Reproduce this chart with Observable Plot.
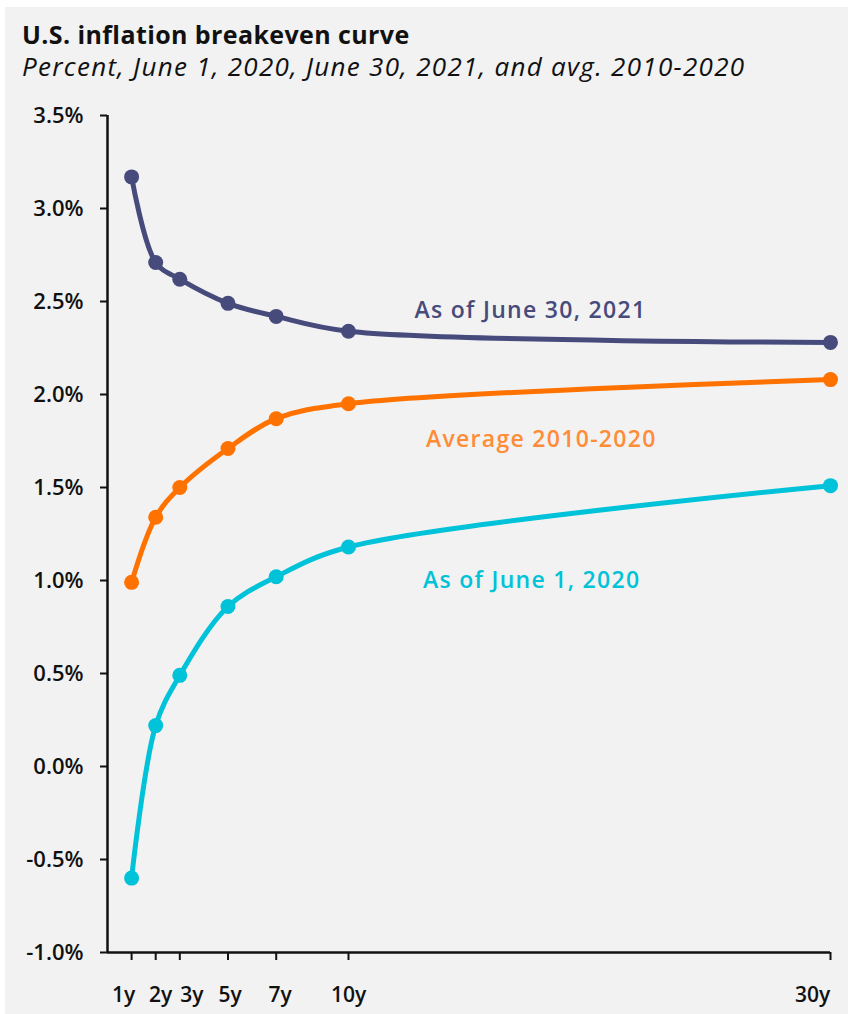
<!DOCTYPE html>
<html>
<head>
<meta charset="utf-8">
<script src="https://cdn.jsdelivr.net/npm/d3@7"></script>
<script src="https://cdn.jsdelivr.net/npm/@observablehq/plot@0.6"></script>
<style>
  html, body { margin: 0; padding: 0; background: #ffffff; }
  #panel {
    position: absolute; left: 5px; top: 7px; right: 0; bottom: 0;
    background: #f2f2f2; overflow: hidden;
    font-family: "Open Sans", "Noto Sans", sans-serif; color: #111;
  }
  #title { position: absolute; left: 17px; top: 10px; font-size: 25px; font-weight: 700; letter-spacing: 0.4px; white-space: nowrap; }
  #subtitle { position: absolute; left: 17px; top: 41px; font-size: 26px; font-style: italic; font-weight: 400; letter-spacing: 1.3px; white-space: nowrap; }
  #chart { position: absolute; left: 0; top: 88px; }
</style>
</head>
<body>
<div id="panel">
  <div id="title">U.S. inflation breakeven curve</div>
  <div id="subtitle">Percent, June 1, 2020, June 30, 2021, and avg. 2010-2020</div>
  <div id="chart"></div>
</div>
<script>
// Maturities (years) and breakeven rates (%)
const tenors = [1, 2, 3, 5, 7, 10, 30];
const june2021 = [3.17, 2.71, 2.62, 2.49, 2.42, 2.34, 2.28];
const avg2010_2020 = [0.99, 1.34, 1.50, 1.71, 1.87, 1.95, 2.08];
const june2020 = [-0.60, 0.22, 0.49, 0.86, 1.02, 1.18, 1.51];

const seriesNames = ["As of June 30, 2021", "Average 2010-2020", "As of June 1, 2020"];
const lineColors = ["#464b7c", "#ff7200", "#00c2d8"];
const labelColors = ["#464b7c", "#ff8c37", "#00c2d8"];
const yTicks = [-1.0, -0.5, 0.0, 0.5, 1.0, 1.5, 2.0, 2.5, 3.0, 3.5];

// Label anchor points, in chart units (years, percent)
const labelX = [17.55, 18.0, 17.6];
const labelY = [2.45, 1.76, 1.0];

const seriesValues = [june2021, avg2010_2020, june2020];
const rows = seriesValues.flatMap((vals, i) =>
  tenors.map((t, j) => ({ series: seriesNames[i], tenor: t, value: vals[j] }))
);
const labels = seriesNames.map((name, i) => ({ series: name, x: labelX[i], y: labelY[i] }));

const font = "'Open Sans', 'Noto Sans', sans-serif";

// Tenor label under the x axis; the short-end labels are nudged apart so they don't collide
const tenorLabel = (t, dx) => Plot.text([t], {
  x: d => d, text: d => d + "y", frameAnchor: "bottom", dy: 43, dx,
  fontSize: 21, fontWeight: 600, fill: "#111", lineAnchor: "middle"
});

const chart = Plot.plot({
  width: 843,
  height: 919,
  marginLeft: 102,
  marginRight: 18,
  marginTop: 20,
  marginBottom: 62,
  style: { background: "transparent", fontFamily: font, fontSize: "21px", fontWeight: 600, color: "#111" },
  x: { type: "linear", domain: [0, 30] },
  y: { domain: [-1, 3.5] },
  color: { domain: seriesNames, range: lineColors },
  marks: [
    Plot.axisY({ ticks: yTicks, tickFormat: d => d.toFixed(1) + "%", tickSize: 7, tickPadding: 17, strokeWidth: 2, stroke: "#111", label: null, fontSize: 22 }),
    Plot.axisX({ ticks: tenors, tickFormat: () => "", tickSize: 8, strokeWidth: 2, stroke: "#111", label: null }),
    tenorLabel(1, -8), tenorLabel(2, 5), tenorLabel(3, 12), tenorLabel(5, 2),
    tenorLabel(7, 4), tenorLabel(10, 0), tenorLabel(30, -18),
    Plot.ruleX([0], { stroke: "#111", strokeWidth: 2.5 }),
    Plot.ruleY([-1], { stroke: "#111", strokeWidth: 2.5 }),
    Plot.line(rows, { x: "tenor", y: "value", z: "series", stroke: "series", strokeWidth: 5, curve: "catmull-rom" }),
    Plot.dot(rows, { x: "tenor", y: "value", fill: "series", r: 7.5 }),
    Plot.text(labels, {
      x: "x", y: "y", text: "series",
      fill: (d) => labelColors[seriesNames.indexOf(d.series)],
      fontSize: 23, fontWeight: 600, textAnchor: "middle", fontFamily: font,
      className: "series-label"
    })
  ]
});
// Wider tracking for the series labels
chart.querySelectorAll('.series-label text').forEach(t => t.style.letterSpacing = "1.3px");
document.getElementById("chart").appendChild(chart);
</script>
</body>
</html>
